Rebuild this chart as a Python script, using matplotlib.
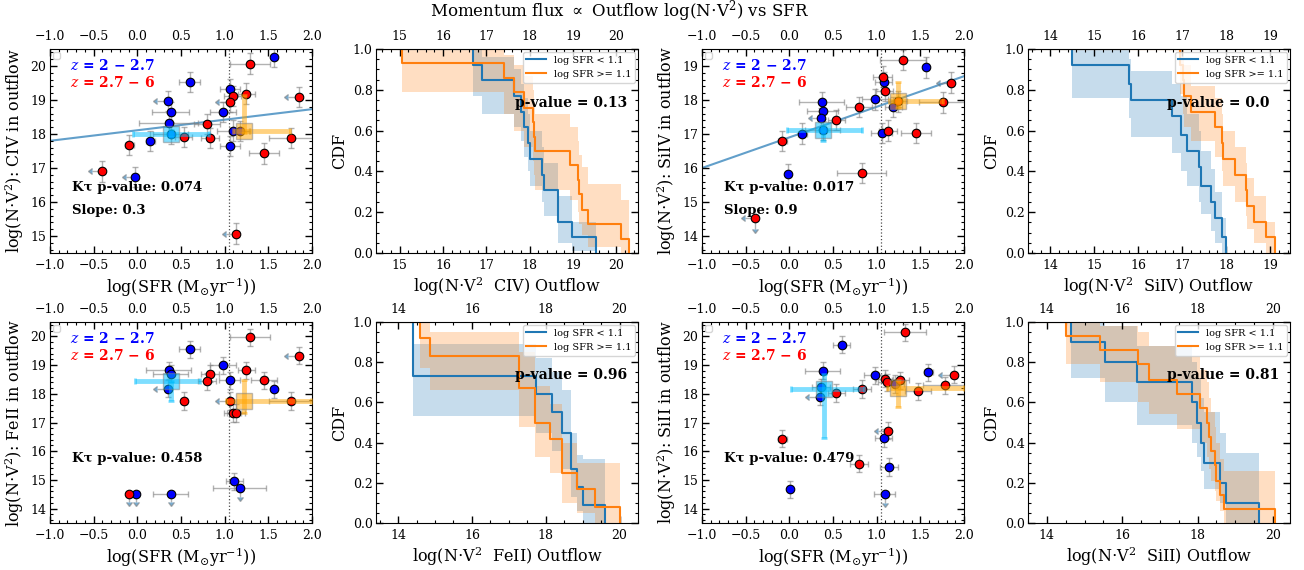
import numpy as np
import matplotlib
matplotlib.use('Agg')
import matplotlib.pyplot as plt
from matplotlib.ticker import MultipleLocator, AutoMinorLocator

plt.rcParams['font.family'] = 'serif'
plt.rcParams['font.serif'] = ['DejaVu Serif']
plt.rcParams['mathtext.fontset'] = 'dejavuserif'

# ---------------- scatter data: log SFR vs log(N V^2) ----------------
# lim codes: 0 none, 1 upper limit in SFR (left arrow), 2 upper limit in N V^2 (down arrow), 3 both
civ_blue_sfr = [1.57, 0.60, 1.06, 0.35, 0.38, 0.98, 0.36, 0.38, 1.10, 0.15, 1.06, -0.03, 1.18]
civ_blue_mom = [20.26, 19.53, 19.33, 18.97, 18.65, 18.65, 18.32, 18.01, 18.10, 17.80, 17.65, 16.73, 18.09]
civ_blue_err = [0.0, 0.12, 0.11, 0.13, 0.21, 0.15, 0.34, 0.2, 0.19, 0.05, 0.11, 0.1, 0.1]
civ_blue_lim = [0, 0, 0, 1, 0, 0, 0, 0, 0, 0, 0, 1, 0]
civ_red_sfr = [1.29, 1.09, 1.25, 1.06, 1.85, 0.80, 0.53, 0.83, 1.76, -0.09, 1.45, -0.40, 1.13]
civ_red_mom = [20.07, 19.12, 19.19, 18.94, 19.09, 18.29, 17.92, 17.88, 17.89, 17.67, 17.43, 16.90, 15.07]
civ_red_err = [0.23, 0.1, 0.1, 0.12, 0.13, 0.15, 0.1, 0.1, 0.25, 0.05, 0.17, 0.12, 0.12]
civ_red_lim = [0, 0, 0, 1, 1, 0, 0, 0, 0, 0, 0, 1, 1]

siiv_blue_sfr = [1.57, 1.08, 0.98, 0.37, 0.38, 0.36, 0.38, 0.15, 1.06, -0.01, 1.19]
siiv_blue_mom = [18.96, 18.52, 18.02, 17.94, 17.69, 17.46, 17.13, 17.01, 17.03, 15.82, 17.79]
siiv_blue_err = [0.0, 0.1, 0.15, 0.26, 0.18, 0.1, 0.2, 0.05, 0.12, 0.0, 0.1]
siiv_blue_lim = [0, 0, 0, 0, 0, 1, 0, 0, 0, 0, 0]
siiv_red_sfr = [1.30, 1.07, 1.09, 1.85, 0.80, 0.54, 1.76, 1.13, 1.45, -0.08, 0.83, -0.39, 1.25]
siiv_red_mom = [19.18, 18.69, 18.27, 18.51, 17.79, 17.42, 17.93, 17.10, 17.03, 16.79, 15.86, 14.52, 17.96]
siiv_red_err = [0.26, 0.11, 0.1, 0.12, 0.15, 0.1, 0.27, 0.1, 0.17, 0.05, 0.28, 0.12, 0.1]
siiv_red_lim = [0, 0, 0, 1, 0, 0, 0, 0, 0, 0, 0, 3, 0]

feii_blue_sfr = [0.60, 0.98, 0.36, 0.38, 1.06, 0.35, 1.57, 1.11, 1.17, -0.02, 0.38]
feii_blue_mom = [19.55, 18.99, 18.82, 18.70, 18.47, 18.18, 18.15, 14.95, 14.72, 14.52, 14.52]
feii_blue_err = [0.12, 0.15, 0.26, 0.2, 0.12, 0.12, 0.0, 0.1, 0.3, 0.0, 0.2]
feii_blue_lim = [0, 0, 0, 0, 0, 1, 0, 0, 2, 2, 2]
feii_red_sfr = [1.29, 1.85, 0.83, 0.80, 1.25, 1.45, 0.53, 1.06, 1.76, 1.09, 1.13, -0.09]
feii_red_mom = [19.97, 19.33, 18.70, 18.44, 18.82, 18.47, 17.75, 17.75, 17.75, 17.33, 17.33, 14.52]
feii_red_err = [0.23, 0.13, 0.1, 0.1, 0.1, 0.15, 0.0, 0.12, 0.25, 0.1, 0.1, 0.0]
feii_red_lim = [0, 1, 0, 0, 0, 0, 0, 1, 0, 0, 0, 2]

siii_blue_sfr = [0.60, 0.38, 0.98, 1.59, 0.36, 0.35, 1.21, 1.08, 1.14, 1.09, 0.01]
siii_blue_mom = [19.71, 18.80, 18.64, 18.75, 18.22, 17.90, 18.34, 16.46, 15.45, 14.51, 14.67]
siii_blue_err = [0.1, 0.2, 0.12, 0.05, 0.1, 0.12, 0.1, 0.1, 0.1, 0.12, 0.0]
siii_blue_lim = [0, 0, 0, 0, 0, 1, 0, 0, 0, 2, 0]
siii_red_sfr = [1.32, 1.09, 1.12, 1.27, 1.88, 1.78, 0.83, 0.54, 1.47, 1.13, -0.08, 0.80]
siii_red_mom = [20.14, 18.52, 18.40, 18.47, 18.67, 18.30, 18.17, 18.03, 18.08, 16.72, 16.44, 15.57]
siii_red_err = [0.24, 0.1, 0.1, 0.1, 0.13, 0.25, 0.1, 0.1, 0.15, 0.12, 0.05, 0.1]
siii_red_lim = [0, 0, 0, 0, 1, 0, 0, 0, 0, 1, 0, 0]

mom_err = 0.3

# medians: (sfr, mom, sfr_lo, sfr_hi, mom_lo, mom_hi)
civ_med_low = (0.38, 18.01, 0.425, 0.435, 0.1, 0.1)
civ_med_high = (1.22, 18.09, 0.12, 0.53, 0.05, 1.05)
siiv_med_low = (0.38, 17.13, 0.41, 0.45, 0.33, 0.1)
siiv_med_high = (1.24, 17.96, 0.1, 0.52, 0.2, 0.58)
feii_med_low = (0.38, 18.44, 0.405, 0.34, 0.69, 0.0)
feii_med_high = (1.22, 17.75, 0.2, 0.77, 0.42, 0.72)
siii_med_low = (0.40, 18.17, 0.385, 0.45, 1.72, 0.53)
siii_med_high = (1.25, 18.19, 0.13, 0.75, 0.66, 0.28)

# linear fits (slope, intercept) and Kendall tau p-values
civ_fit = (0.31, 18.11)
siiv_fit = (0.9, 16.9)
ktau_p = ['0.074', '0.017', '0.458', '0.479']
sfr_split = 1.055

# ---------------- CDF data (step drops, levels, confidence bands) ----------------
civ_lo_x = [16.70, 16.89, 17.64, 17.80, 17.86, 17.96, 18.01, 18.28, 18.32, 18.65, 18.97, 19.54]
civ_lo_cdf = [0.92, 0.85, 0.77, 0.69, 0.62, 0.54, 0.46, 0.38, 0.31, 0.15, 0.08, 0.0]
civ_lo_low = [0.77, 0.68, 0.62, 0.55, 0.47, 0.40, 0.33, 0.25, 0.18, 0.05, 0.01, 0.0]
civ_lo_up = [1.0, 0.96, 0.90, 0.83, 0.76, 0.68, 0.60, 0.52, 0.44, 0.28, 0.15, 0.0]
civ_hi_x = [15.05, 17.41, 17.64, 17.87, 18.07, 18.10, 18.12, 18.94, 19.11, 19.14, 19.20, 19.35, 20.10, 20.29]
civ_hi_cdf = [0.93, 0.86, 0.79, 0.71, 0.64, 0.57, 0.50, 0.43, 0.36, 0.29, 0.21, 0.14, 0.07, 0.0]
civ_hi_low = [0.79, 0.68, 0.60, 0.52, 0.45, 0.38, 0.31, 0.26, 0.20, 0.14, 0.09, 0.03, 0.0, 0.0]
civ_hi_up = [1.0, 0.97, 0.92, 0.87, 0.80, 0.74, 0.68, 0.62, 0.55, 0.48, 0.42, 0.34, 0.26, 0.0]

siiv_lo_x = [14.49, 15.80, 15.83, 16.76, 16.98, 17.10, 17.38, 17.42, 17.66, 17.75, 17.91, 17.99]
siiv_lo_cdf = [0.92, 0.83, 0.75, 0.67, 0.58, 0.50, 0.42, 0.33, 0.25, 0.17, 0.08, 0.0]
siiv_lo_low = [0.76, 0.66, 0.57, 0.49, 0.40, 0.33, 0.25, 0.19, 0.11, 0.05, 0.0, 0.0]
siiv_lo_up = [1.0, 0.95, 0.89, 0.83, 0.77, 0.68, 0.60, 0.50, 0.41, 0.30, 0.17, 0.0]
siiv_hi_x = [16.96, 17.02, 17.05, 17.21, 17.74, 17.90, 17.93, 18.21, 18.46, 18.48, 18.63, 18.91, 19.11]
siiv_hi_cdf = [0.92, 0.85, 0.77, 0.69, 0.62, 0.54, 0.46, 0.38, 0.31, 0.23, 0.15, 0.08, 0.0]
siiv_hi_low = [0.78, 0.68, 0.62, 0.55, 0.47, 0.40, 0.33, 0.25, 0.18, 0.12, 0.05, 0.0, 0.0]
siiv_hi_up = [1.0, 1.0, 0.92, 0.82, 0.76, 0.68, 0.60, 0.52, 0.44, 0.37, 0.28, 0.15, 0.0]

feii_lo_x = [14.41, 17.73, 18.17, 18.44, 18.68, 18.84, 19.00, 19.61]
feii_lo_cdf = [0.73, 0.64, 0.55, 0.45, 0.27, 0.18, 0.09, 0.0]
feii_lo_low = [0.53, 0.45, 0.36, 0.27, 0.13, 0.06, 0.0, 0.0]
feii_lo_up = [0.89, 0.82, 0.75, 0.66, 0.45, 0.34, 0.32, 0.0]
feii_hi_x = [14.60, 14.85, 17.28, 17.71, 18.12, 18.44, 18.84, 19.34, 20.00]
feii_hi_cdf = [0.92, 0.83, 0.67, 0.50, 0.42, 0.25, 0.17, 0.08, 0.0]
feii_hi_low = [0.77, 0.66, 0.48, 0.33, 0.25, 0.10, 0.05, 0.0, 0.0]
feii_hi_up = [1.0, 0.95, 0.85, 0.68, 0.59, 0.40, 0.30, 0.30, 0.0]

siii_lo_x = [14.65, 15.54, 16.40, 17.84, 17.98, 18.09, 18.18, 18.58, 18.76, 19.64]
siii_lo_cdf = [0.9, 0.8, 0.7, 0.6, 0.5, 0.4, 0.3, 0.2, 0.1, 0.0]
siii_lo_low = [0.72, 0.60, 0.49, 0.40, 0.33, 0.26, 0.17, 0.10, 0.0, 0.0]
siii_lo_up = [1.0, 0.98, 0.88, 0.80, 0.72, 0.62, 0.55, 0.45, 0.35, 0.0]
siii_hi_x = [14.51, 15.42, 16.42, 16.71, 17.46, 18.05, 18.24, 18.29, 18.35, 18.45, 18.50, 18.60, 18.70, 20.06]
siii_hi_cdf = [0.93, 0.86, 0.79, 0.71, 0.64, 0.57, 0.50, 0.43, 0.36, 0.29, 0.21, 0.14, 0.07, 0.0]
siii_hi_low = [0.79, 0.70, 0.60, 0.54, 0.47, 0.40, 0.33, 0.27, 0.21, 0.16, 0.11, 0.06, 0.0, 0.0]
siii_hi_up = [1.0, 0.98, 0.95, 0.88, 0.83, 0.76, 0.70, 0.62, 0.55, 0.48, 0.40, 0.32, 0.26, 0.0]

ks_p = ['0.13', '0.0', '0.96', '0.81']

# ---------------- figure ----------------
W, H = 1304, 570
fig = plt.figure(figsize=(W / 100, H / 100), dpi=100)
fig.suptitle(r'Momentum flux $\propto$ Outflow log(N$\cdot$V$^2$) vs SFR', fontsize=12,
             x=0.475, y=0.981, va='center')

col_left = [50, 376, 702, 1028]
row_span = [(49, 253), (322, 523)]


def new_ax(col, row):
    top, bot = row_span[row]
    return fig.add_axes([col_left[col] / W, 1 - bot / H, 262 / W, (bot - top) / H])


def style(ax):
    ax.tick_params(which='both', direction='in', top=True, right=True, labeltop=True, labelsize=9)
    ax.tick_params(which='major', length=5, width=1)
    ax.tick_params(which='minor', length=2.5, width=0.8)
    ax.tick_params(axis='x', pad=4)
    ax.tick_params(axis='y', pad=2.5)
    ax.xaxis.set_minor_locator(AutoMinorLocator())
    ax.yaxis.set_minor_locator(AutoMinorLocator())


def points(ax, sfr, mom, err, lim, color):
    lim = np.array(lim)
    ax.errorbar(sfr, mom, xerr=err, yerr=mom_err, xuplims=(lim % 2 == 1), uplims=(lim >= 2),
                fmt='none', ecolor='grey', alpha=0.6, capsize=2, elinewidth=1, zorder=2)
    ax.scatter(sfr, mom, s=38, c=color, edgecolors='k', linewidths=0.8, zorder=3)


def median(ax, med, color):
    x, y, xl, xh, yl, yh = med
    ax.errorbar([x], [y], xerr=[[xl], [xh]], yerr=[[yl], [yh]], fmt='s', ms=11, mfc=color,
                mec='grey', ecolor=color, elinewidth=3.5, capsize=2, capthick=2, alpha=0.5, zorder=4)


def scatter_panel(ax, ion, blue, red, med_lo, med_hi, ylim, p, fit):
    points(ax, *blue, 'blue')
    points(ax, *red, 'red')
    median(ax, med_lo, 'deepskyblue')
    median(ax, med_hi, 'orange')
    ax.axvline(sfr_split, color='k', ls=':', lw=0.9, alpha=0.7, zorder=1)
    ax.set_xlim(-1, 2)
    ax.set_ylim(*ylim)
    if fit is not None:
        xx = np.array(ax.get_xlim())
        ax.plot(xx, fit[1] + fit[0] * xx, color='C0', alpha=0.7, lw=1.5, zorder=1)
        ax.text(0.083, 0.21, 'Slope: %s' % round(fit[0], 1), transform=ax.transAxes,
                fontsize=9.5, fontweight='bold', va='center')
    ax.text(0.083, 0.322, 'Kτ p-value: ' + p, transform=ax.transAxes, fontsize=9.5,
            fontweight='bold', va='center')
    ax.text(0.075, 0.92, r'$z$ = 2 − 2.7', color='blue', transform=ax.transAxes,
            fontsize=10, fontweight='bold', va='center')
    ax.text(0.075, 0.835, r'$z$ = 2.7 − 6', color='red', transform=ax.transAxes,
            fontsize=10, fontweight='bold', va='center')
    ax.legend(handles=[], labels=[], loc='upper left', fontsize=6, borderaxespad=0.4)
    ax.xaxis.set_major_locator(MultipleLocator(0.5))
    ax.yaxis.set_major_locator(MultipleLocator(1))
    style(ax)
    ax.set_xlabel(r'log(SFR (M$_{\odot}$yr$^{-1}$))', fontsize=11.5, labelpad=3)
    ax.set_ylabel(r'log(N$\cdot$V$^2$): ' + ion + ' in outflow', fontsize=11.5, labelpad=3)


def cdf_panel(ax, ion, lo, hi, xlim, major, p):
    ax.set_xlim(*xlim)
    for (xs, cdf, low, up), color, lab in [(lo, 'C0', 'log SFR < 1.1'), (hi, 'C1', 'log SFR >= 1.1')]:
        xs = np.array(xs)
        ax.fill_between(xs, low, up, step='post', color=color, alpha=0.25, lw=0)
        ax.step(np.r_[xlim[0], xs], np.r_[1.0, cdf], where='post', color=color, lw=1.5, label=lab)
    ax.set_ylim(0, 1)
    ax.text(0.53, 0.735, 'p-value = ' + p, transform=ax.transAxes, fontsize=10,
            fontweight='bold', va='center')
    ax.legend(loc='upper right', fontsize=7, borderaxespad=0.3)
    ax.xaxis.set_major_locator(MultipleLocator(major))
    ax.yaxis.set_major_locator(MultipleLocator(0.2))
    style(ax)
    ax.set_xlabel(r'log(N$\cdot$V$^2$  ' + ion + ') Outflow', fontsize=11.5, labelpad=3)
    ax.set_ylabel('CDF', fontsize=11.5, labelpad=3)


scatter_panel(new_ax(0, 0), 'CIV', (civ_blue_sfr, civ_blue_mom, civ_blue_err, civ_blue_lim),
              (civ_red_sfr, civ_red_mom, civ_red_err, civ_red_lim), civ_med_low, civ_med_high,
              (14.5, 20.5), ktau_p[0], civ_fit)
scatter_panel(new_ax(2, 0), 'SiIV', (siiv_blue_sfr, siiv_blue_mom, siiv_blue_err, siiv_blue_lim),
              (siiv_red_sfr, siiv_red_mom, siiv_red_err, siiv_red_lim), siiv_med_low, siiv_med_high,
              (13.5, 19.5), ktau_p[1], siiv_fit)
scatter_panel(new_ax(0, 1), 'FeII', (feii_blue_sfr, feii_blue_mom, feii_blue_err, feii_blue_lim),
              (feii_red_sfr, feii_red_mom, feii_red_err, feii_red_lim), feii_med_low, feii_med_high,
              (13.5, 20.5), ktau_p[2], None)
scatter_panel(new_ax(2, 1), 'SiII', (siii_blue_sfr, siii_blue_mom, siii_blue_err, siii_blue_lim),
              (siii_red_sfr, siii_red_mom, siii_red_err, siii_red_lim), siii_med_low, siii_med_high,
              (13.5, 20.5), ktau_p[3], None)

cdf_panel(new_ax(1, 0), 'CIV', (civ_lo_x, civ_lo_cdf, civ_lo_low, civ_lo_up),
          (civ_hi_x, civ_hi_cdf, civ_hi_low, civ_hi_up), (14.45, 20.5), 1, ks_p[0])
cdf_panel(new_ax(3, 0), 'SiIV', (siiv_lo_x, siiv_lo_cdf, siiv_lo_low, siiv_lo_up),
          (siiv_hi_x, siiv_hi_cdf, siiv_hi_low, siiv_hi_up), (13.5, 19.45), 1, ks_p[1])
cdf_panel(new_ax(1, 1), 'FeII', (feii_lo_x, feii_lo_cdf, feii_lo_low, feii_lo_up),
          (feii_hi_x, feii_hi_cdf, feii_hi_low, feii_hi_up), (13.4, 20.5), 2, ks_p[2])
cdf_panel(new_ax(3, 1), 'SiII', (siii_lo_x, siii_lo_cdf, siii_lo_low, siii_lo_up),
          (siii_hi_x, siii_hi_cdf, siii_hi_low, siii_hi_up), (13.5, 20.45), 2, ks_p[3])

fig.savefig('out.png', dpi=100)
